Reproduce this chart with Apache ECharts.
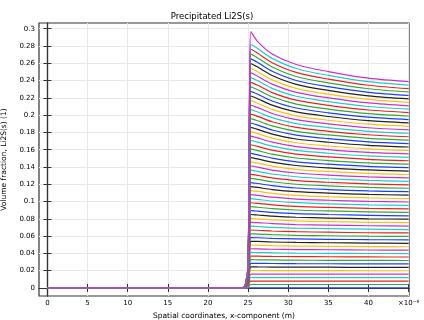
<!DOCTYPE html>
<html><head><meta charset="utf-8">
<script src="https://cdn.jsdelivr.net/npm/echarts@6/dist/echarts.min.js"></script>
<style>html,body{margin:0;padding:0;background:#fff}#c{width:424px;height:320px}</style>
</head><body><div id="c"></div>
<script>
// x positions (in 1e-6 m) where the curves are sampled
const xPositions = [0, 24.3, 24.7, 25.0, 25.2, 25.35, 26.2, 28, 31, 35, 40, 45];
const beforeFront = 0; // value at x = 0 and x = 24.3 for every curve
// values of the 61 curves (one entry per curve, earliest first) at each x position
const at24_7 = [0,.0001,.0002,.0002,.0003,.0004,.0005,.0006,.0007,.0007,.0008,.0009,.0010,.0011,.0012,.0013,.0013,.0014,.0015,.0016,.0017,.0018,.0019,.0020,.0021,.0022,.0023,.0023,.0024,.0025,.0026,.0027,.0028,.0029,.0030,.0031,.0032,.0033,.0034,.0035,.0036,.0037,.0038,.0039,.0040,.0041,.0042,.0043,.0044,.0045,.0047,.0048,.0049,.0050,.0051,.0052,.0053,.0054,.0055,.0056,.0058];
const at25_0 = [0,.0004,.0008,.0012,.0016,.0020,.0024,.0029,.0033,.0037,.0041,.0045,.0050,.0054,.0058,.0063,.0067,.0072,.0076,.0081,.0085,.0090,.0094,.0099,.0103,.0108,.0113,.0117,.0122,.0127,.0132,.0136,.0141,.0146,.0151,.0156,.0161,.0166,.0171,.0176,.0181,.0186,.0191,.0196,.0201,.0206,.0212,.0217,.0222,.0227,.0233,.0238,.0243,.0249,.0254,.0260,.0265,.0271,.0276,.0282,.0287];
const at25_2 = [0,.0034,.0068,.0103,.0137,.0172,.0207,.0242,.0278,.0314,.0349,.0386,.0422,.0459,.0496,.0533,.0570,.0608,.0646,.0684,.0723,.0761,.0800,.0838,.0878,.0917,.0957,.0997,.1037,.1077,.1118,.1159,.1199,.1241,.1283,.1324,.1366,.1408,.1451,.1493,.1536,.1579,.1623,.1666,.1710,.1754,.1799,.1843,.1888,.1933,.1978,.2023,.2069,.2115,.2161,.2207,.2253,.2300,.2348,.2394,.2440];
const at25_35 = [0,.0040,.0080,.0121,.0161,.0202,.0244,.0285,.0327,.0369,.0411,.0454,.0497,.0540,.0583,.0627,.0671,.0715,.0760,.0805,.0850,.0895,.0941,.0986,.1033,.1079,.1126,.1173,.1220,.1267,.1315,.1363,.1411,.1460,.1509,.1558,.1607,.1657,.1707,.1757,.1807,.1858,.1909,.1960,.2012,.2064,.2116,.2168,.2221,.2274,.2327,.2380,.2434,.2488,.2542,.2597,.2651,.2706,.2762,.2817,.2966];
const at26_2 = [0,.0040,.0080,.0120,.0161,.0202,.0243,.0284,.0326,.0368,.0410,.0452,.0495,.0538,.0581,.0624,.0668,.0711,.0756,.0800,.0844,.0889,.0934,.0979,.1025,.1071,.1117,.1163,.1209,.1256,.1303,.1350,.1398,.1445,.1493,.1541,.1590,.1638,.1687,.1736,.1786,.1835,.1885,.1935,.1986,.2036,.2087,.2138,.2190,.2241,.2293,.2345,.2397,.2450,.2503,.2556,.2609,.2662,.2716,.2770,.2850];
const at28 = [0,.0040,.0080,.0120,.0161,.0201,.0242,.0283,.0324,.0365,.0407,.0448,.0490,.0532,.0574,.0617,.0659,.0702,.0745,.0788,.0831,.0875,.0918,.0962,.1006,.1050,.1095,.1139,.1184,.1229,.1274,.1319,.1364,.1410,.1456,.1502,.1548,.1594,.1641,.1687,.1734,.1781,.1828,.1875,.1923,.1971,.2019,.2067,.2115,.2163,.2212,.2261,.2310,.2359,.2408,.2458,.2507,.2557,.2607,.2657,.2708];
const at31 = [0,.0040,.0080,.0120,.0160,.0200,.0241,.0281,.0322,.0363,.0403,.0444,.0485,.0527,.0568,.0609,.0651,.0692,.0734,.0776,.0818,.0860,.0902,.0944,.0987,.1029,.1072,.1115,.1157,.1200,.1243,.1287,.1330,.1373,.1417,.1460,.1504,.1548,.1592,.1636,.1680,.1724,.1769,.1813,.1858,.1902,.1947,.1992,.2037,.2082,.2128,.2173,.2218,.2264,.2310,.2356,.2401,.2447,.2494,.2540,.2586];
const at35 = [0,.0040,.0080,.0120,.0160,.0200,.0240,.0280,.0320,.0361,.0401,.0442,.0482,.0523,.0563,.0604,.0645,.0686,.0727,.0768,.0809,.0850,.0891,.0932,.0973,.1015,.1056,.1098,.1139,.1181,.1223,.1264,.1306,.1348,.1390,.1432,.1474,.1516,.1559,.1601,.1643,.1686,.1728,.1771,.1813,.1856,.1899,.1941,.1984,.2027,.2070,.2113,.2156,.2200,.2243,.2286,.2329,.2373,.2416,.2460,.2504];
const at40 = [0,.0040,.0080,.0119,.0159,.0199,.0239,.0279,.0319,.0359,.0399,.0439,.0479,.0519,.0559,.0599,.0639,.0680,.0720,.0760,.0800,.0841,.0881,.0921,.0961,.1002,.1042,.1083,.1123,.1163,.1204,.1244,.1285,.1325,.1366,.1406,.1447,.1488,.1528,.1569,.1610,.1650,.1691,.1732,.1773,.1813,.1854,.1895,.1936,.1977,.2018,.2059,.2100,.2141,.2182,.2223,.2264,.2305,.2346,.2387,.2428];
const at45 = [0,.0040,.0080,.0119,.0159,.0199,.0239,.0278,.0318,.0358,.0398,.0438,.0477,.0517,.0557,.0597,.0637,.0676,.0716,.0756,.0796,.0835,.0875,.0915,.0955,.0995,.1034,.1074,.1114,.1154,.1194,.1233,.1273,.1313,.1353,.1392,.1432,.1472,.1512,.1552,.1591,.1631,.1671,.1711,.1750,.1790,.1830,.1870,.1910,.1949,.1989,.2029,.2069,.2108,.2148,.2188,.2228,.2268,.2307,.2347,.2387];
const xTicks = [0, 5, 10, 15, 20, 25, 30, 35, 40, 45];
const yTicks = [0, 0.02, 0.04, 0.06, 0.08, 0.1, 0.12, 0.14, 0.16, 0.18, 0.2, 0.22, 0.24, 0.26, 0.28, 0.3];
const palette = ['#1a3cff', '#33a833', '#ee2020', '#20cccc', '#cc30cc', '#ffbf10', '#202020'];

const columns = [null, null, at24_7, at25_0, at25_2, at25_35, at26_2, at28, at31, at35, at40, at45];
const series = [];
for (let i = 0; i < at45.length; i++) {
  const data = xPositions.map((x, k) => [x, columns[k] ? columns[k][i] : beforeFront]);
  series.push({
    type: 'line', data, showSymbol: false, smooth: 0.3,
    lineStyle: { width: 1.2, color: palette[i % palette.length] },
    itemStyle: { color: palette[i % palette.length] },
    z: 2 + i * 0.001, animation: false, silent: true
  });
}
const font = 'DejaVu Sans';
const xBase = { type: 'value', min: -1.05, max: 45.05 };
const yBase = { type: 'value', min: -0.0093, max: 0.3066 };
const chart = echarts.init(document.getElementById('c'), null, { renderer: 'canvas' });
chart.setOption({
  animation: false,
  backgroundColor: '#fff',
  title: { text: 'Precipitated Li2S(s)', left: 'center', top: 7, textStyle: { fontFamily: font, fontSize: 8.5, fontWeight: 'normal', color: '#000' } },
  grid: { left: 39, right: 15, top: 23, bottom: 24, containLabel: false, outerBoundsMode: 'none', show: true, borderColor: '#333', borderWidth: 1.2, backgroundColor: 'transparent' },
  xAxis: [
    Object.assign({}, xBase, {
      position: 'bottom',
      name: 'Spatial coordinates, x-component (m)', nameLocation: 'middle', nameGap: 11,
      nameTextStyle: { fontFamily: font, fontSize: 7.5, color: '#000' },
      axisLine: { show: true, lineStyle: { color: '#333', width: 1.2 } },
      axisTick: { show: true, inside: true, length: 4, customValues: xTicks, lineStyle: { color: '#333' } },
      axisLabel: { customValues: xTicks, margin: 4, fontFamily: font, fontSize: 7, color: '#000',
        formatter: v => v === 45 ? '×10⁻⁶' : String(v) },
      splitLine: { show: true, lineStyle: { color: '#e8e8e8', width: 1 } }
    }),
    Object.assign({}, xBase, {
      position: 'top',
      axisLine: { show: true, lineStyle: { color: '#333', width: 1.2 } },
      axisTick: { show: true, inside: true, length: 4, customValues: xTicks, lineStyle: { color: '#333' } },
      axisLabel: { show: false }, splitLine: { show: false }
    })
  ],
  yAxis: [
    Object.assign({}, yBase, {
      position: 'left',
      name: 'Volume fraction, Li2S(s) (1)', nameLocation: 'middle', nameGap: 28,
      nameTextStyle: { fontFamily: font, fontSize: 7.5, color: '#000' },
      axisLine: { show: true, lineStyle: { color: '#333', width: 1.2 } },
      axisTick: { show: true, inside: true, length: 4, customValues: yTicks, lineStyle: { color: '#333' } },
      axisLabel: { customValues: yTicks, margin: 4, fontFamily: font, fontSize: 7, color: '#000',
        formatter: v => String(v) },
      splitLine: { show: true, lineStyle: { color: '#e8e8e8', width: 1 } }
    }),
    Object.assign({}, yBase, {
      position: 'right',
      axisLine: { show: true, lineStyle: { color: '#333', width: 1.2 } },
      axisTick: { show: true, inside: true, length: 4, customValues: yTicks, lineStyle: { color: '#333' } },
      axisLabel: { show: false }, splitLine: { show: false }
    })
  ],
  series
});
</script></body></html>
